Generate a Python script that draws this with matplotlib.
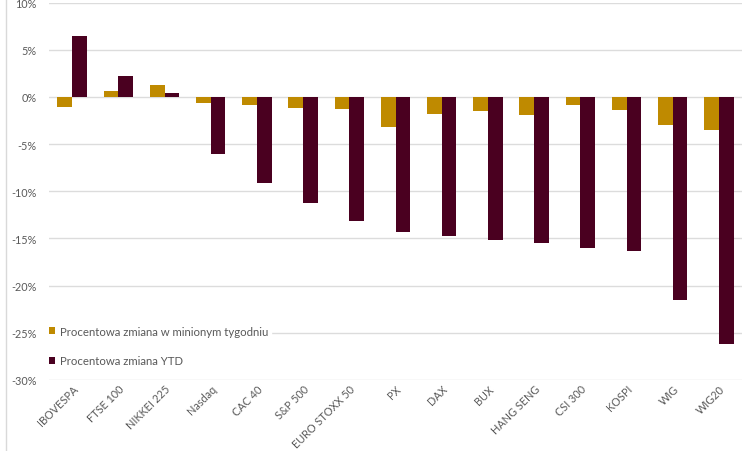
import matplotlib
matplotlib.use("Agg")
import matplotlib.pyplot as plt
from matplotlib.ticker import FuncFormatter
from matplotlib.lines import Line2D
import numpy as np

indeksy = ["IBOVESPA", "FTSE 100", "NIKKEI 225", "Nasdaq", "CAC 40", "S&P 500",
           "EURO STOXX 50", "PX", "DAX", "BUX", "HANG SENG", "CSI 300",
           "KOSPI", "WIG", "WIG20"]
zmiana_tydzien = [-1.1, 0.6, 1.3, -0.6, -0.9, -1.2, -1.25, -3.2, -1.8, -1.5,
                  -1.95, -0.9, -1.35, -3.0, -3.55]
zmiana_ytd = [6.4, 2.2, 0.45, -6.1, -9.1, -11.2, -13.2, -14.3, -14.7, -15.2,
              -15.5, -16.0, -16.3, -21.5, -26.2]

kolor_tydzien = "#BF8A00"
kolor_ytd = "#4A0020"
szary = "#595959"

plt.rcParams['font.family'] = ['Lato', 'DejaVu Sans']

fig = plt.figure(figsize=(7.42, 4.52), dpi=100)
ax = fig.add_axes([49 / 742, 71 / 452, 693 / 742, 377.5 / 452])

x = np.arange(len(indeksy))
w = 0.32
ax.bar(x - w / 2, zmiana_tydzien, w, color=kolor_tydzien, zorder=3,
       label="Procentowa zmiana w minionym tygodniu")
ax.bar(x + w / 2, zmiana_ytd, w, color=kolor_ytd, zorder=3,
       label="Procentowa zmiana YTD")

ax.set_xlim(-0.5, len(indeksy) - 0.5)
ax.set_ylim(-30, 10)
ax.set_yticks(np.arange(-30, 11, 5))
ax.yaxis.set_major_formatter(FuncFormatter(lambda v, p: "%d%%" % v))
ax.grid(axis="y", color="#DCDCDC", linewidth=1, zorder=0)
for s in ax.spines.values():
    s.set_visible(False)
ax.tick_params(axis="y", length=0, pad=9, labelsize=7.8, labelcolor=szary)
ax.tick_params(axis="x", length=0, pad=2, labelsize=7.8, labelcolor=szary)
ax.set_xticks(x)
ax.set_xticklabels(indeksy, rotation=45, ha="right", rotation_mode="anchor")

leg = ax.legend(loc="lower left", bbox_to_anchor=(-0.012, 0.015),
                frameon=True, fontsize=8.2, handlelength=0.6, handleheight=0.6,
                handletextpad=0.4, labelspacing=1.65, borderpad=0.2)
leg.get_frame().set_facecolor("white")
leg.get_frame().set_edgecolor("white")
leg.get_frame().set_alpha(1)
for t in leg.get_texts():
    t.set_color(szary)

# left frame line of the original picture
fig.add_artist(Line2D([6 / 742, 6 / 742], [0, 1], color="#D9D9D9", linewidth=1))

fig.savefig("out.png", dpi=100)
